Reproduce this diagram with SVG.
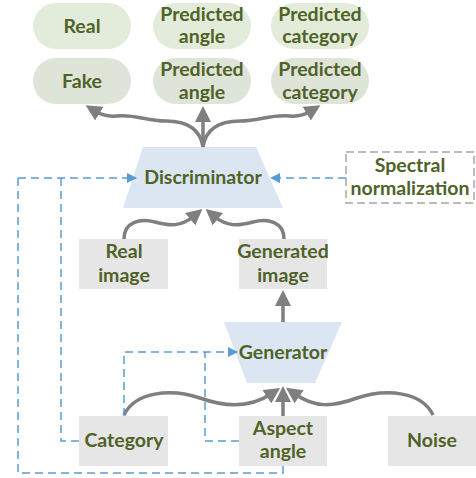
<svg xmlns="http://www.w3.org/2000/svg" width="476" height="478" viewBox="0 0 476 478">
  <style>
    .lbl { font-family: Lato, "Liberation Sans", sans-serif; font-weight: bold; font-size: 19.5px; fill: #4F6228; text-anchor: middle; }
    .out1 { fill: #E3ECDA; }
    .out2 { fill: #DFE4D9; }
    .box { fill: #E6E6E6; }
    .net { fill: #DCE6F2; }
    .flow { fill: none; stroke: #7F7F7F; stroke-width: 3.5; marker-end: url(#gray-head); }
    .cond { fill: none; stroke: #5B9BD5; stroke-width: 1.5; stroke-dasharray: 8 5; }
    .cond-arrow { marker-end: url(#blue-head); }
    .spec { fill: #FFFFFF; stroke: #A6A6A6; stroke-width: 1.5; stroke-dasharray: 8 4; }
  </style>
  <defs>
    <marker id="gray-head" markerUnits="userSpaceOnUse" viewBox="0 0 16 16" markerWidth="16" markerHeight="16" refX="5" refY="8" orient="auto">
      <path d="M0,0 L16,8 L0,16 z" fill="#7F7F7F"/>
    </marker>
    <marker id="blue-head" markerUnits="userSpaceOnUse" viewBox="0 0 10 10" markerWidth="10" markerHeight="10" refX="9" refY="5" orient="auto">
      <path d="M0,0 L10,5 L0,10 z" fill="#5B9BD5"/>
    </marker>
  </defs>

  <!-- discriminator outputs -->
  <g id="out-real"><rect class="out1" x="33" y="3" width="98" height="46" rx="23"/><text class="lbl" x="82" y="33">Real</text></g>
  <g id="out-angle-1"><rect class="out1" x="153" y="3" width="98" height="46" rx="23"/><text class="lbl" x="202" y="21">Predicted</text><text class="lbl" x="202" y="43">angle</text></g>
  <g id="out-category-1"><rect class="out1" x="271" y="3" width="98" height="46" rx="23"/><text class="lbl" x="320" y="21">Predicted</text><text class="lbl" x="320" y="43">category</text></g>
  <g id="out-fake"><rect class="out2" x="33" y="58" width="98" height="46" rx="23"/><text class="lbl" x="82" y="88">Fake</text></g>
  <g id="out-angle-2"><rect class="out2" x="153" y="58" width="98" height="46" rx="23"/><text class="lbl" x="202" y="76">Predicted</text><text class="lbl" x="202" y="99">angle</text></g>
  <g id="out-category-2"><rect class="out2" x="271" y="58" width="98" height="46" rx="23"/><text class="lbl" x="320" y="76">Predicted</text><text class="lbl" x="320" y="99">category</text></g>

  <!-- networks -->
  <g id="discriminator"><polygon class="net" points="143,147 256,147 283,208 123,208"/><text class="lbl" x="203" y="184">Discriminator</text></g>
  <g id="generator"><polygon class="net" points="224,322 342,322 315,383 247,383"/><text class="lbl" x="283" y="359">Generator</text></g>

  <g id="spectral-norm"><rect class="spec" x="346" y="152" width="128" height="51"/><text class="lbl" x="410" y="172">Spectral</text><text class="lbl" x="410" y="195">normalization</text></g>

  <!-- inputs -->
  <g id="real-image"><rect class="box" x="79" y="239" width="89" height="50"/><text class="lbl" x="124" y="258">Real</text><text class="lbl" x="124" y="282">image</text></g>
  <g id="generated-image"><rect class="box" x="239" y="239" width="88" height="50"/><text class="lbl" x="283" y="258">Generated</text><text class="lbl" x="283" y="282">image</text></g>
  <g id="category"><rect class="box" x="79" y="416" width="89" height="50"/><text class="lbl" x="124" y="447">Category</text></g>
  <g id="aspect-angle"><rect class="box" x="239" y="416" width="88" height="50"/><text class="lbl" x="283" y="435">Aspect</text><text class="lbl" x="283" y="458">angle</text></g>
  <g id="noise"><rect class="box" x="388" y="416" width="88" height="50"/><text class="lbl" x="432" y="447">Noise</text></g>

  <g id="connectors">
    <!-- discriminator heads -->
    <path class="flow" d="M203,147 C200,128 186,121 166,121 C146,121 136,114 116,116 C106,117 100,114 95,111"/>
    <path class="flow" d="M203,147 V117"/>
    <path class="flow" d="M203,147 C206,128 220,121 240,121 C260,121 270,114 290,116 C300,117 306,114 311,111"/>
    <!-- images into discriminator -->
    <path class="flow" d="M124,239 C124,222 140,218 155,222 C170,226 181,227 194,216"/>
    <path class="flow" d="M284,239 C284,222 268,218 253,222 C238,226 227,227 214,216"/>
    <!-- generator output -->
    <path class="flow" d="M283,322 V301"/>
    <!-- generator inputs -->
    <path class="flow" d="M124,415 C135,392 170,388 200,398 C225,407 250,408 271,394"/>
    <path class="flow" d="M283,416 V397"/>
    <path class="flow" d="M433,415 C422,392 387,388 357,398 C332,407 315,408 295,394"/>
    <!-- conditioning links -->
    <path class="cond cond-arrow" d="M18,178 H136"/>
    <path class="cond" d="M18,178 V473 H283 V466"/>
    <path class="cond" d="M61,178 V441 H79"/>
    <path class="cond cond-arrow" d="M346,178 H271"/>
    <path class="cond cond-arrow" d="M124,416 V352 H237"/>
    <path class="cond" d="M239,441 H205 V352"/>
  </g>
</svg>
